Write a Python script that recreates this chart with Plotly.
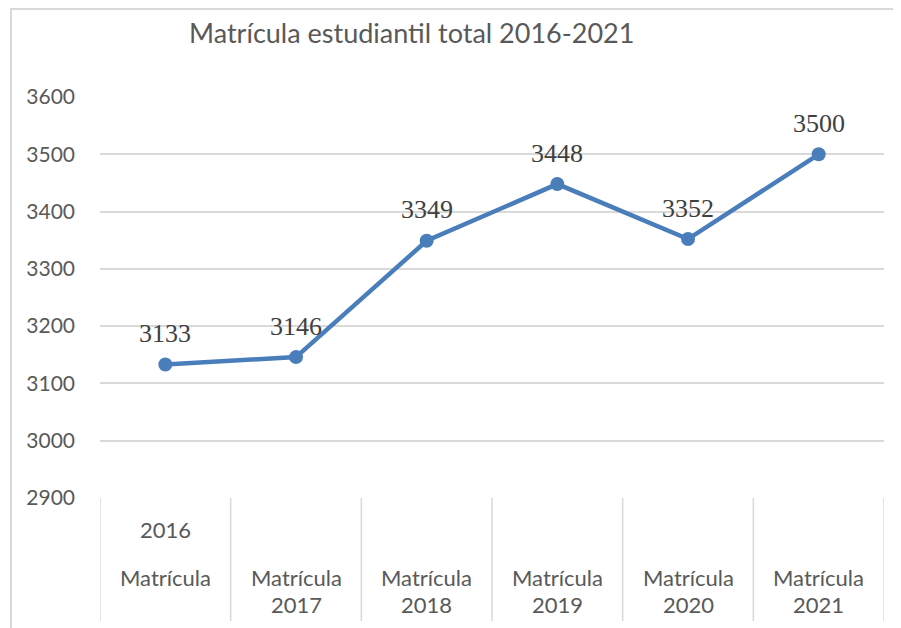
import plotly.graph_objects as go

categories = ["2016", "2017", "2018", "2019", "2020", "2021"]
values = [3133, 3146, 3349, 3448, 3352, 3500]
cat_prefix = "Matrícula"
y_ticks = [2900, 3000, 3100, 3200, 3300, 3400, 3500, 3600]
title_text = "Matrícula estudiantil total 2016-2021"

xs = list(range(len(categories)))
grid = "#D9D9D9"
label_color = "#595959"
sans = "Lato, Open Sans, sans-serif"

# page body has an 8px default margin; work in window pixels and convert
OFF = 8
W, H = 901 - OFF, 628 - OFF
left, right, top, bottom = 100 - OFF, 884 - OFF, 97 - OFF, 498 - OFF
plot_w, plot_h = right - left, bottom - top

def paper_y(pix):
    return (bottom - (pix - OFF)) / plot_h

def paper_x(pix):
    return ((pix - OFF) - left) / plot_w

fig = go.Figure()
fig.add_trace(go.Scatter(
    x=xs, y=values, mode="lines+markers",
    line=dict(color="#4A7EBB", width=4.5),
    marker=dict(color="#4A7EBB", size=14),
    hoverinfo="skip", showlegend=False,
))

annotations = []
for x, v in zip(xs, values):
    annotations.append(dict(x=x, y=v, xref="x", yref="y", text=str(v),
                            showarrow=False, yshift=31,
                            font=dict(family="Liberation Serif, serif", size=26, color="#404040")))

catfont = dict(family=sans, size=22, color=label_color)
def cat_ann(x, ypix, text):
    return dict(x=x, y=paper_y(ypix), xref="x", yref="paper", text=text, showarrow=False,
                xanchor="center", yanchor="middle", font=catfont)

for x, c in zip(xs, categories):
    if x == 0:
        annotations.append(cat_ann(x, 529, c))
        annotations.append(cat_ann(x, 577, cat_prefix))
    else:
        annotations.append(cat_ann(x, 577, cat_prefix))
        annotations.append(cat_ann(x, 604, c))

annotations.append(dict(x=paper_x(411), y=paper_y(32), xref="paper", yref="paper",
                        text=title_text, showarrow=False, xanchor="center", yanchor="middle",
                        font=dict(family=sans, size=27, color=label_color)))

shapes = []
for i in range(len(categories) + 1):
    shapes.append(dict(type="line", xref="x", yref="paper", x0=i - 0.5, x1=i - 0.5,
                       y0=0, y1=paper_y(621), line=dict(color=grid, width=1.5)))
shapes.append(dict(type="line", xref="paper", yref="paper",
                   x0=paper_x(10), x1=paper_x(905), y0=paper_y(9), y1=paper_y(9),
                   line=dict(color=grid, width=2)))
shapes.append(dict(type="line", xref="paper", yref="paper",
                   x0=paper_x(11), x1=paper_x(11), y0=paper_y(8), y1=paper_y(632),
                   line=dict(color=grid, width=2)))

fig.update_layout(
    width=W, height=H,
    margin=dict(l=left, r=W - right, t=top, b=H - bottom),
    paper_bgcolor="white", plot_bgcolor="white",
    xaxis=dict(range=[-0.5, 5.5], showgrid=False, showticklabels=False, zeroline=False,
               showline=False, fixedrange=True),
    yaxis=dict(range=[2900, 3600], tickvals=y_ticks, showgrid=True, gridcolor=grid, gridwidth=1.5,
               zeroline=False, showline=False, ticklabelstandoff=24,
               tickfont=dict(family=sans, size=21, color=label_color)),
    annotations=annotations, shapes=shapes,
)

fig.write_html("out.html")
